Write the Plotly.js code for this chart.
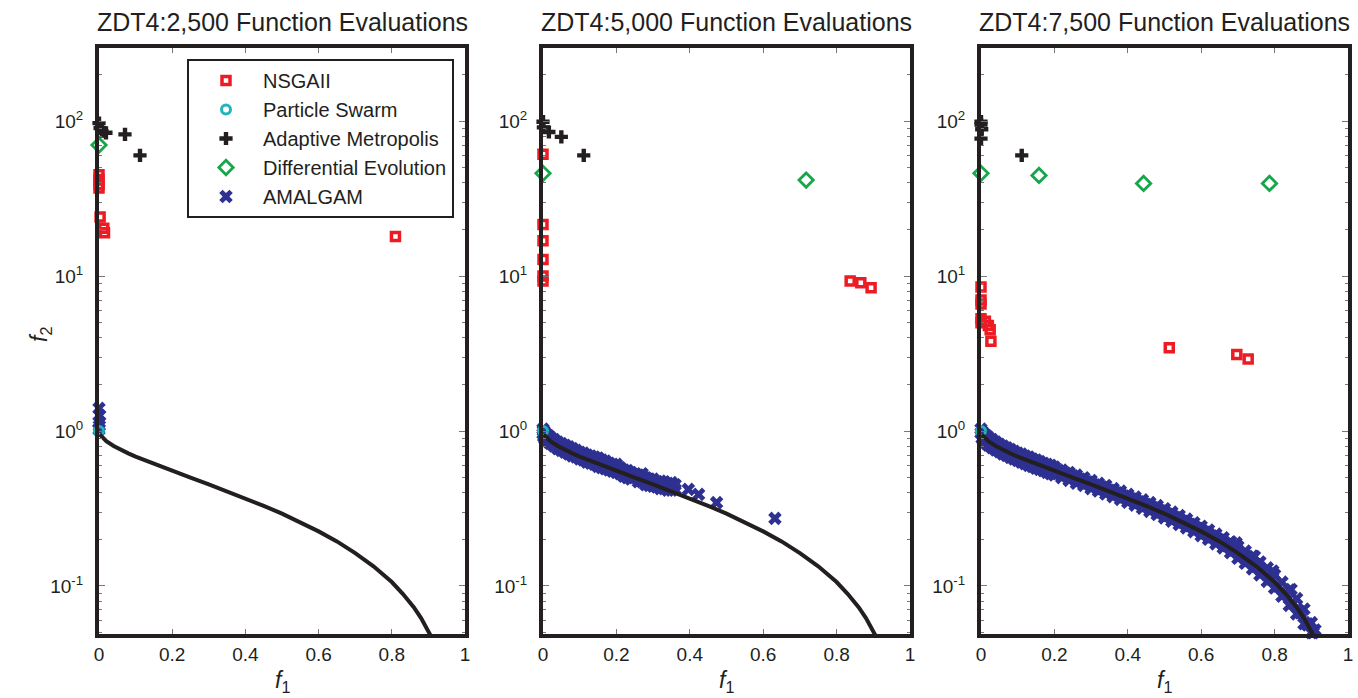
<!DOCTYPE html>
<html><head><meta charset="utf-8">
<script src="https://cdn.plot.ly/plotly-3.0.1.min.js"></script>
<style>html,body{margin:0;padding:0;background:#fff}#chart{width:1358px;height:698px}</style>
</head><body><div id="chart"></div>
<script>
// ---------- data ----------
const panelTitles = ["ZDT4:2,500 Function Evaluations","ZDT4:5,000 Function Evaluations","ZDT4:7,500 Function Evaluations"];
const seriesNames = ["NSGAII","Particle Swarm","Adaptive Metropolis","Differential Evolution","AMALGAM"];
const xTickVals = [0,0.2,0.4,0.6,0.8,1];
const xTickText = ["0","0.2","0.4","0.6","0.8","1"];
const yTickVals = [0.1,1,10,100];
const yTickText = ["10<sup>-1</sup>","10<sup>0</sup>","10<sup>1</sup>","10<sup>2</sup>"];

// true Pareto front
const frontF1 = [0.002,0.01,0.02,0.04,0.06,0.08,0.1,0.15,0.2,0.25,0.3,0.35,0.4,0.45,0.5,0.55,0.6,0.65,0.7,0.75,0.8,0.83,0.86,0.88,0.9,0.91];
const frontF2 = [0.95,0.90,0.86,0.80,0.755,0.717,0.684,0.613,0.553,0.50,0.452,0.408,0.368,0.329,0.293,0.258,0.225,0.194,0.163,0.134,0.106,0.089,0.073,0.062,0.051,0.046];

// panel 1 : 2,500 evaluations
const nsga1X = [0,0,0,0,0.003,0.013,0.015,0.81];
const nsga1Y = [45,42,39,37,24,20.3,19,18];
const pso1X = [0];
const pso1Y = [1.0];
const am1X = [0,0.003,0.008,0.019,0.071,0.112];
const am1Y = [97,90,86,84,82,60];
const de1X = [0];
const de1Y = [70];
const amal1X = [0,0.002,0,0.001,0];
const amal1Y = [1.40,1.26,1.14,1.08,1.02];

// panel 2 : 5,000 evaluations
const nsga2X = [0,0,0,0,0,0,0.837,0.866,0.894];
const nsga2Y = [61,21.5,16.9,12.8,10,9.3,9.3,9.06,8.4];
const pso2X = [0];
const pso2Y = [1.0];
const am2X = [0,0.001,0.016,0.05,0.111];
const am2Y = [99,91,85,79,60];
const de2X = [0,0.717];
const de2Y = [46,41.6];
const amal2X = [0,0.002,0.005,0.01,0.015,0.02,0.03,0.04,0.05,0.06,0.07,0.08,0.09,0.10,0.11,0.12,0.13,0.14,0.15,0.16,0.17,0.18,0.19,0.20,0.21,0.22,0.23,0.24,0.26,0.27,0.28,0.29,0.30,0.31,0.32,0.33,0.34,0.35,0.36,
  0,0.002,0.005,0.01,0.015,0.02,0.03,0.04,0.05,0.06,0.07,0.08,0.09,0.10,0.11,0.12,0.13,0.14,0.15,0.16,0.17,0.18,0.19,0.20,0.21,0.22,0.23,0.24,0.26,0.27,0.28,0.29,0.30,0.31,0.32,0.33,0.34,0.35,0.36,
  0.001,0.008,0.025,0.035,0.045,0.055,0.065,0.075,0.085,0.095,0.105,0.115,0.125,0.135,0.145,0.155,0.165,0.175,0.185,0.195,0.205,0.215,0.225,0.235,0.25,0.265,0.275,0.285,0.295,0.305,0.315,0.325,0.335,0.345,0.355,
  0.396,0.424,0.473,0.632];
const amal2Y = [1.03,1.0,0.97,0.95,0.93,0.91,0.88,0.85,0.83,0.81,0.79,0.77,0.75,0.73,0.72,0.70,0.69,0.68,0.67,0.65,0.64,0.62,0.61,0.61,0.58,0.56,0.555,0.54,0.52,0.53,0.50,0.49,0.49,0.47,0.475,0.47,0.46,0.465,0.45,
  0.96,0.92,0.89,0.87,0.85,0.83,0.80,0.77,0.75,0.73,0.71,0.69,0.68,0.66,0.65,0.63,0.62,0.61,0.59,0.58,0.57,0.56,0.55,0.54,0.53,0.51,0.50,0.49,0.47,0.47,0.45,0.445,0.44,0.435,0.425,0.425,0.415,0.415,0.42,
  1.0,0.93,0.86,0.83,0.80,0.78,0.76,0.74,0.72,0.71,0.69,0.68,0.67,0.65,0.64,0.63,0.62,0.61,0.60,0.58,0.58,0.56,0.55,0.54,0.52,0.51,0.50,0.49,0.48,0.47,0.46,0.45,0.445,0.44,0.44,
  0.42,0.39,0.345,0.273];

// panel 3 : 7,500 evaluations
const nsga3X = [0,0,0,0,0,0.012,0.02,0.025,0.027,0.513,0.697,0.728];
const nsga3Y = [8.5,7.0,6.6,5.3,5.0,5.1,4.8,4.5,3.8,3.45,3.12,2.92];
const pso3X = [0];
const pso3Y = [1.0];
const am3X = [0,0,0.002,0,0.111];
const am3Y = [99,95,88.5,77,60];
const de3X = [0,0.158,0.443,0.786];
const de3Y = [46,44.6,39.6,39.6];
const amal3X = [0,0.003,0.006,0.010,0.015,0.020,0.03,0.04,0.05,0.06,0.07,0.08,0.09,0.10,0.11,0.12,0.13,0.14,0.15,0.16,0.17,0.18,0.19,0.20,0.22,0.24,0.26,0.28,0.30,0.32,0.34,0.36,0.38,0.40,0.42,0.44,0.46,0.48,0.50,0.52,0.54,0.56,0.58,0.60,0.62,0.64,0.66,0.68,0.70,0.72,0.74,0.76,0.78,0.80,0.82,0.84,0.86,0.88,0.90,0.91,
  0,0.003,0.006,0.010,0.015,0.020,0.03,0.04,0.05,0.06,0.07,0.08,0.09,0.10,0.11,0.12,0.13,0.14,0.15,0.16,0.17,0.18,0.19,0.20,0.22,0.24,0.26,0.28,0.30,0.32,0.34,0.36,0.38,0.40,0.42,0.44,0.46,0.48,0.50,0.52,0.54,0.56,0.58,0.60,0.62,0.64,0.66,0.68,0.70,0.72,0.74,0.76,0.78,0.80,0.82,0.84,0.86,0.88,0.90,
  0.025,0.035,0.045,0.055,0.065,0.075,0.085,0.095,0.105,0.115,0.125,0.135,0.145,0.155,0.165,0.175,0.185,0.195,0.21,0.23,0.25,0.27,0.29,0.31,0.33,0.35,0.37,0.39,0.41,0.43,0.45,0.47,0.49,0.51,0.53,0.55,0.57,0.59,0.61,0.63,0.65,0.67,0.69,0.71,0.73,0.75,0.77,0.79,0.81,0.83,0.85,0.87,0.89,0.905,0.695,0.745,0.795,0.845,
  0.21,0.23,0.25,0.27,0.29,0.31,0.33,0.35,0.37,0.39,0.41,0.43,0.45,0.47,0.49,0.51,0.53,0.55,0.57,0.59,0.61,0.63,0.65,0.67,0.69,0.71,0.73,0.75,0.77,0.79,0.81,0.83,0.85,0.87,0.89];
const amal3Y = [1.03,0.99,0.97,0.95,0.93,0.91,0.88,0.85,0.82,0.80,0.78,0.76,0.74,0.72,0.71,0.69,0.68,0.66,0.65,0.635,0.62,0.61,0.60,0.585,0.56,0.54,0.52,0.50,0.48,0.46,0.445,0.425,0.41,0.39,0.375,0.36,0.345,0.33,0.315,0.30,0.285,0.27,0.256,0.243,0.23,0.216,0.205,0.193,0.18,0.168,0.156,0.143,0.131,0.118,0.106,0.094,0.083,0.071,0.058,0.052,
  0.97,0.90,0.88,0.86,0.83,0.81,0.78,0.755,0.735,0.71,0.695,0.675,0.66,0.645,0.63,0.615,0.60,0.59,0.575,0.565,0.555,0.54,0.53,0.52,0.50,0.48,0.46,0.445,0.425,0.41,0.392,0.377,0.362,0.347,0.332,0.317,0.303,0.289,0.275,0.262,0.249,0.237,0.224,0.211,0.20,0.187,0.176,0.164,0.151,0.14,0.129,0.118,0.107,0.097,0.086,0.075,0.066,0.057,0.05,
  0.81,0.79,0.77,0.76,0.74,0.73,0.71,0.69,0.675,0.66,0.65,0.635,0.62,0.605,0.595,0.585,0.57,0.56,0.54,0.52,0.505,0.48,0.46,0.445,0.425,0.41,0.39,0.375,0.36,0.345,0.33,0.315,0.30,0.285,0.272,0.258,0.245,0.232,0.22,0.207,0.195,0.182,0.17,0.158,0.146,0.134,0.123,0.111,0.100,0.089,0.078,0.068,0.057,0.05,0.19,0.155,0.125,0.095,
  0.56,0.535,0.515,0.49,0.47,0.45,0.435,0.415,0.40,0.38,0.365,0.35,0.335,0.32,0.305,0.29,0.276,0.262,0.25,0.236,0.222,0.21,0.198,0.185,0.172,0.16,0.148,0.137,0.124,0.112,0.1,0.089,0.077,0.067,0.056];

// ---------- styling ----------
const INK = "#231F20";
const FONT = "Liberation Sans, Arial, sans-serif";
const styles = [
  {color:"#ED1C24", symbol:"square-open", size:8, lw:3.5},
  {color:"#22B5B8", symbol:"circle-open", size:9, lw:3},
  {color:INK, symbol:"cross", size:11, lw:0},
  {color:"#18A64A", symbol:"diamond-open", size:11, lw:2.8},
  {color:"#2E3192", symbol:"x", size:12, lw:0}
];
const panels = [
  {series:[[nsga1X,nsga1Y],[pso1X,pso1Y],[am1X,am1Y],[de1X,de1Y],[amal1X,amal1Y]]},
  {series:[[nsga2X,nsga2Y],[pso2X,pso2Y],[am2X,am2Y],[de2X,de2Y],[amal2X,amal2Y]]},
  {series:[[nsga3X,nsga3Y],[pso3X,pso3Y],[am3X,am3Y],[de3X,de3Y],[amal3X,amal3Y]]}
];
const W = 1358, H = 698;
const xPix = [[99,465],[543,910],[981,1348]];
const yTop = 48, yBot = 634;
const drawOrder = [4,1,0,3,2];

const traces = [];
const layout = {
  width:W, height:H, margin:{l:0,r:0,t:0,b:0},
  paper_bgcolor:"#fff", plot_bgcolor:"#fff",
  font:{family:FONT, color:INK, size:19},
  showlegend:true,
  legend:{x:187/W, y:1-59/H, xanchor:"left", yanchor:"top", bgcolor:"#fff",
          bordercolor:INK, borderwidth:2, font:{size:20, family:FONT, color:INK},
          itemwidth:64, tracegroupgap:0, traceorder:"normal"},
  annotations:[], shapes:[]
};

panels.forEach((p,i)=>{
  const xa = i===0 ? "x" : "x"+(i+1);
  const ya = i===0 ? "y" : "y"+(i+1);
  drawOrder.forEach(k=>{
    const s = styles[k];
    traces.push({x:p.series[k][0], y:p.series[k][1], xaxis:xa, yaxis:ya, mode:"markers",
      name:seriesNames[k], legendrank:k+1, showlegend:i===0, cliponaxis:false,
      marker:{symbol:s.symbol, size:s.size, color:s.color, line:{color:s.color, width:s.lw}}});
  });
  traces.push({x:frontF1, y:frontF2, xaxis:xa, yaxis:ya, mode:"lines",
    line:{color:INK, width:4}, showlegend:false, hoverinfo:"skip", cliponaxis:true});
  const dom = [xPix[i][0]/W, xPix[i][1]/W];
  const axKey = i===0 ? "" : String(i+1);
  layout["xaxis"+axKey] = {domain:dom, anchor:ya, range:[0,1], tickvals:xTickVals, ticktext:xTickText,
    ticks:"inside", ticklen:5, tickwidth:1, tickcolor:"#777", showline:true, linewidth:4, linecolor:INK,
    mirror:"ticks", showgrid:false, zeroline:false, ticklabelstandoff:0,
    tickfont:{size:19, family:FONT, color:INK}};
  layout["yaxis"+axKey] = {domain:[1-yBot/H, 1-yTop/H], anchor:xa, type:"log",
    range:[Math.log10(0.049), Math.log10(296)], tickvals:yTickVals, ticktext:yTickText,
    ticks:"inside", ticklen:6, tickwidth:1, tickcolor:"#777", showline:true, linewidth:4, linecolor:INK,
    mirror:"ticks", showgrid:false, zeroline:false, ticklabelstandoff:8,
    minor:{ticks:"inside", ticklen:3, tickcolor:"#777", dtick:"D1", showgrid:false},
    tickfont:{size:19, family:FONT, color:INK}};
  const cx = (xPix[i][0]+xPix[i][1])/2/W;
  layout.annotations.push({text:panelTitles[i], xref:"paper", yref:"paper", x:cx, y:1-22/H,
    xanchor:"center", yanchor:"middle", showarrow:false, font:{size:25, family:FONT, color:INK}});
  layout.annotations.push({text:"<i>f</i><sub>1</sub>", xref:"paper", yref:"paper", x:cx, y:1-681/H,
    xanchor:"center", yanchor:"middle", showarrow:false, font:{size:23, family:FONT, color:INK}});
});
layout.annotations.push({text:"<i>f</i><sub>2</sub>", xref:"paper", yref:"paper", x:40/W, y:1-335/H,
  xanchor:"center", yanchor:"middle", textangle:-90, showarrow:false, font:{size:23, family:FONT, color:INK}});

Plotly.newPlot("chart", traces, layout, {displayModeBar:false, staticPlot:true});
</script></body></html>
